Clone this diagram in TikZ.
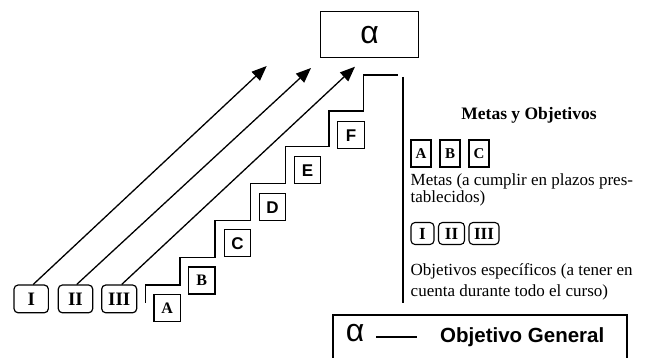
\documentclass[tikz,border=0pt]{standalone}
\usepackage{fontspec}
\setmainfont{Liberation Serif}
\newfontfamily\arialfont{Liberation Sans}
\usetikzlibrary{arrows.meta}
\begin{document}
\begin{tikzpicture}[x=1pt,y=-1pt,
  sqbox/.style={draw, line width=1.2pt, inner sep=0pt, minimum width=26.5pt, minimum height=27pt},
  serifletter/.style={font=\fontsize{16}{16}\selectfont\bfseries},
  sansletter/.style={font=\fontsize{17}{17}\selectfont\arialfont\bfseries},
  romanbox/.style={draw, line width=1.2pt, rounded corners=4pt, inner sep=0pt, minimum height=27.7pt,
    font=\fontsize{19}{19}\selectfont\bfseries},
  smallsq/.style={draw, line width=1.1pt, inner sep=0pt, minimum width=20pt, minimum height=27pt,
    font=\fontsize{15}{15}\selectfont\bfseries},
  smallroman/.style={draw, line width=1.1pt, rounded corners=4pt, inner sep=0pt, minimum height=22pt,
    font=\fontsize{17}{17}\selectfont\bfseries},
  bodytext/.style={anchor=west, inner sep=0pt, font=\fontsize{17}{17}\selectfont},
  goalarrow/.style={line width=1.3pt, -{Triangle[length=15pt,width=12pt]}},
  stair/.style={line width=1.1pt}
]
\useasboundingbox (0,0) rectangle (664,358);

% general objective at the top
\node[draw, line width=1.2pt, minimum width=97.6pt, minimum height=46pt, inner sep=0pt,
  font=\fontsize{32}{32}\selectfont\arialfont] (alpha) at (369.5,34.7) {α};

% specific objectives at the foot of the stairs
\node[romanbox, minimum width=34.3pt] (rI)   at (31.2,298.9) {I};
\node[romanbox, minimum width=34.4pt] (rII)  at (75.5,298.9) {II};
\node[romanbox, minimum width=35pt]   (rIII) at (119.2,298.9) {III};

% arrow tips pointing at the general objective
\coordinate (tipI)   at (266.7,66);
\coordinate (tipII)  at (311,68);
\coordinate (tipIII) at (355,66.7);
\draw[goalarrow] ([xshift=2pt]rI.north)   -- (tipI);
\draw[goalarrow] ([xshift=1.2pt]rII.north)  -- (tipII);
\draw[goalarrow] ([xshift=2.5pt]rIII.north) -- (tipIII);

% staircase of goals
\draw[stair] (145.7,302.7) -- (145.7,285) -- (180,285) -- (180,257.5) -- (215,257.5)
  -- (215,220.7) -- (250.7,220.7) -- (250.7,183.3) -- (285.7,183.3) -- (285.7,146.7)
  -- (329,146.7) -- (329,111) -- (363.3,111) -- (363.3,75) -- (398.3,75);

\node[sqbox, serifletter] (gA) at (167.2,307.9) {A};
\node[sqbox, serifletter] (gB) at (201.8,280.4) {B};
\node[sqbox, sansletter]  (gC) at (237.4,243.3) {C};
\node[sqbox, sansletter]  (gD) at (272.4,207.2) {D};
\node[sqbox, sansletter]  (gE) at (307.5,170.4) {E};
\node[sqbox, sansletter]  (gF) at (351,135.4) {F};

% divider of the legend
\draw[line width=1.1pt] (403,77) -- (403,303);

% legend
\node[inner sep=0pt, font=\fontsize{17.5}{17.5}\selectfont\bfseries] (ltitle) at (529,115) {Metas y Objetivos};

\node[smallsq] (lA) at (421,153.5) {A};
\node[smallsq] (lB) at (450,153.5) {B};
\node[smallsq] (lC) at (479,153.5) {C};

\node[bodytext] (lmetas1) at (410.5,181) {Metas (a cumplir en plazos pres-};
\node[bodytext] (lmetas2) at (410.5,198) {tablecidos)};

\node[smallroman, minimum width=23pt] (lI)   at (422.5,233.5) {I};
\node[smallroman, minimum width=26pt] (lII)  at (451.5,233.5) {II};
\node[smallroman, minimum width=30pt] (lIII) at (484,233.5) {III};

\node[bodytext] (lobj1) at (410.5,271) {Objetivos específicos (a tener en};
\node[bodytext] (lobj2) at (410.5,292) {cuenta durante todo el curso)};

% key for the general objective
\draw[line width=1.2pt] (333,380) -- (333,315) -- (627,315) -- (627,380);
\node[inner sep=0pt, font=\fontsize{32}{32}\selectfont\arialfont] (kalpha) at (355,333) {α};
\coordinate (dashL) at (376,337);
\coordinate (dashR) at (417,337);
\draw[line width=2.4pt] (dashL) -- (dashR);
\node[anchor=west, inner sep=0pt, font=\fontsize{20.5}{20.5}\selectfont\arialfont\bfseries] (kgoal) at (440,337) {Objetivo General};
\end{tikzpicture}
\end{document}
